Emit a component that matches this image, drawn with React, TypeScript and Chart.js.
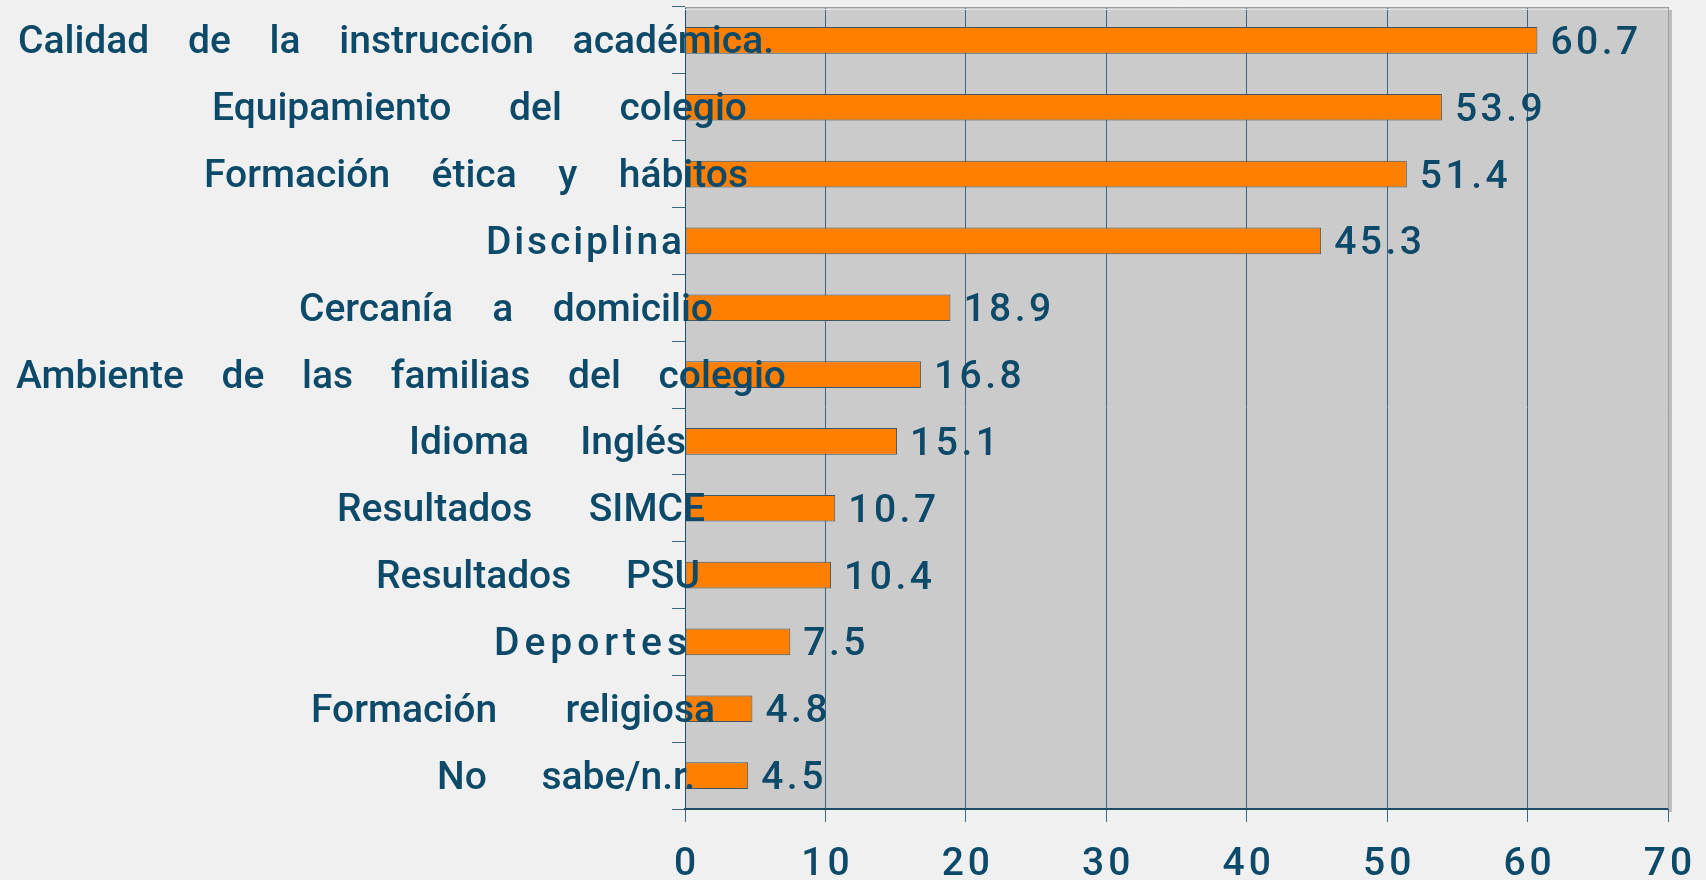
import React, { useEffect, useRef } from "react";
import { Chart, registerables } from "chart.js";

Chart.register(...registerables);

const categories = [
  "Calidad de la instrucción académica.",
  "Equipamiento del colegio",
  "Formación ética y hábitos",
  "Disciplina",
  "Cercanía a domicilio",
  "Ambiente de las familias del colegio",
  "Idioma Inglés",
  "Resultados SIMCE",
  "Resultados PSU",
  "Deportes",
  "Formación religiosa",
  "No sabe/n.r.",
];

const values = [60.7, 53.9, 51.4, 45.3, 18.9, 16.8, 15.1, 10.7, 10.4, 7.5, 4.8, 4.5];

const xTickValues = [0, 10, 20, 30, 40, 50, 60, 70];

// Text layout of the category labels (offsets in px from the left edge of the plot area)
const labelStartOffsets = [-667, -473, -481, -199, -386, -669, -276, -348, -309, -191, -374, -248];
const labelEndOffsets = [89, 62, 63, -3, 28, 101, 1, 20, 15, 2, 30, 10];

const TEXT_COLOR = "#0D4A69";
const GRID_COLOR = "#3A6680";
const FONT = '500 39px Roboto, "Liberation Sans", Arial, sans-serif';

function drawJustified(ctx: CanvasRenderingContext2D, text: string, left: number, right: number, y: number) {
  const words = text.split(/\s+/);
  if (words.length > 1) {
    const widths = words.map((w) => ctx.measureText(w).width);
    const total = widths.reduce((a, b) => a + b, 0);
    const gap = (right - left - total) / (words.length - 1);
    let x = left;
    words.forEach((w, i) => {
      ctx.fillText(w, x, y);
      x += widths[i] + gap;
    });
  } else {
    const chars = Array.from(text);
    const widths = chars.map((c) => ctx.measureText(c).width);
    const total = widths.reduce((a, b) => a + b, 0);
    const sp = (right - left - total) / Math.max(1, chars.length - 1);
    let x = left;
    chars.forEach((c, i) => {
      ctx.fillText(c, x, y);
      x += widths[i] + sp;
    });
  }
}

const decorPlugin = {
  id: "decor",
  beforeDraw(chart: any) {
    const { ctx, chartArea: a } = chart;
    ctx.save();
    ctx.fillStyle = "#EFF0EF";
    ctx.fillRect(0, 0, chart.width, chart.height);
    ctx.fillStyle = "#BEBEBE";
    ctx.fillRect(a.right, a.top + 3, 4, a.bottom - a.top);
    ctx.fillStyle = "#CBCBCB";
    ctx.fillRect(a.left, a.top, a.right - a.left, a.bottom - a.top);
    ctx.restore();
  },
  afterDraw(chart: any) {
    const { ctx, chartArea: a } = chart;
    const xs = chart.scales.x;
    const ys = chart.scales.y;
    ctx.save();
    ctx.strokeStyle = "#9A9FA3";
    ctx.lineWidth = 1;
    ctx.beginPath();
    ctx.moveTo(a.left, a.top + 0.5);
    ctx.lineTo(a.right + 0.5, a.top + 0.5);
    ctx.lineTo(a.right + 0.5, a.bottom);
    ctx.stroke();
    ctx.strokeStyle = "#E2E2E2";
    ctx.beginPath();
    ctx.moveTo(a.left, a.top + 2.5);
    ctx.lineTo(a.right, a.top + 2.5);
    ctx.stroke();

    ctx.font = FONT;
    ctx.fillStyle = TEXT_COLOR;
    ctx.textBaseline = "alphabetic";
    ctx.textAlign = "left";

    categories.forEach((c, i) => {
      const yc = ys.getPixelForValue(i);
      drawJustified(ctx, c, a.left + labelStartOffsets[i], a.left + labelEndOffsets[i], yc + 13);
    });

    (ctx as any).letterSpacing = "3.5px";
    values.forEach((v, i) => {
      const yc = ys.getPixelForValue(i);
      ctx.fillText(v.toFixed(1), xs.getPixelForValue(v) + 13, yc + 13.5);
    });

    (ctx as any).letterSpacing = "4px";
    ctx.textAlign = "center";
    xTickValues.forEach((t) => {
      ctx.fillText(String(t), xs.getPixelForValue(t) + 2, a.bottom + 66);
    });
    (ctx as any).letterSpacing = "0px";
    ctx.restore();
  },
};

export default function App() {
  const ref = useRef<HTMLCanvasElement | null>(null);
  useEffect(() => {
    if (!ref.current) return;
    const chart = new Chart(ref.current, {
      type: "bar",
      data: {
        labels: categories,
        datasets: [
          {
            data: values,
            backgroundColor: "#FF8000",
            borderColor: "#3E5666",
            borderWidth: 1,
            borderSkipped: false,
            barPercentage: 0.4,
            categoryPercentage: 1,
          },
        ],
      },
      options: {
        indexAxis: "y",
        responsive: false,
        animation: false,
        layout: { padding: { top: 7, right: 38, left: 0, bottom: 0 } },
        plugins: { legend: { display: false }, tooltip: { enabled: false } },
        scales: {
          x: {
            type: "linear",
            min: 0,
            max: 70,
            ticks: { stepSize: 10, display: false },
            grid: {
              color: GRID_COLOR,
              lineWidth: 1,
              drawTicks: true,
              tickLength: 13,
              tickColor: GRID_COLOR,
            },
            border: { display: true, color: "#1F4D68", width: 2 },
            afterFit: (s: any) => {
              s.height = 71;
            },
          },
          y: {
            type: "category",
            offset: true,
            ticks: { display: false },
            grid: {
              offset: true,
              drawOnChartArea: false,
              drawTicks: true,
              tickLength: 13,
              color: GRID_COLOR,
              tickColor: GRID_COLOR,
            },
            border: { display: true, color: "#1F4D68", width: 1 },
            afterFit: (s: any) => {
              s.width = 685;
            },
          },
        },
      },
      plugins: [decorPlugin],
    } as any);
    return () => chart.destroy();
  }, []);
  return (
    <div style={{ position: "fixed", left: 0, top: 0, width: 1706, height: 880, background: "#EFF0EF" }}>
      <canvas ref={ref} width={1706} height={880} style={{ display: "block", width: 1706, height: 880 }} />
    </div>
  );
}
